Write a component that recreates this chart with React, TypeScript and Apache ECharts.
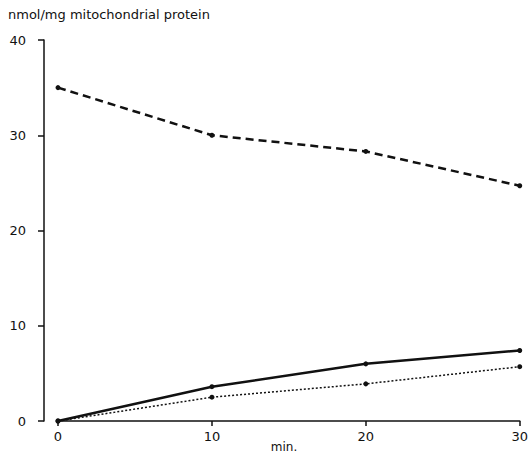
import React, { useEffect, useRef } from "react";
import * as echarts from "echarts";

const minutes = [0, 10, 20, 30];
const dashedSeries = [35.0, 30.0, 28.3, 24.7];
const solidSeries = [0, 3.6, 6.0, 7.4];
const dottedSeries = [0, 2.5, 3.9, 5.7];
const yTicks = [0, 10, 20, 30, 40];
const yTitle = "nmol/mg mitochondrial protein";
const xTitle = "min.";

const FONT = "'DejaVu Sans', sans-serif";
const INK = "#111";

export default function App() {
  const ref = useRef<HTMLDivElement>(null);
  useEffect(() => {
    if (!ref.current) return;
    const chart = echarts.init(ref.current, undefined, { renderer: "svg" });
    const mk = (vals: number[]) => minutes.map((m, i) => [m, vals[i]]);
    chart.setOption({
      animation: false,
      backgroundColor: "#fff",
      grid: { left: 58, right: 10, top: 40, bottom: 32 },
      graphic: [
        {
          type: "text",
          left: 8,
          top: 8,
          style: { text: yTitle, font: `13px ${FONT}`, fill: INK },
        },
        {
          type: "text",
          x: 284,
          y: 441,
          style: { text: xTitle, font: `12px ${FONT}`, fill: INK, align: "center" },
        },
      ],
      xAxis: {
        type: "value",
        min: 0,
        max: 30,
        interval: 10,
        splitLine: { show: false },
        axisLine: { show: true, onZero: false, lineStyle: { color: INK, width: 1.5 } },
        axisTick: { show: true, inside: false, length: 5, lineStyle: { color: INK, width: 1.5 } },
        axisLabel: { color: INK, fontSize: 13, fontFamily: FONT, margin: 9 },
      },
      yAxis: {
        type: "value",
        min: yTicks[0],
        max: yTicks[yTicks.length - 1],
        interval: 10,
        offset: 14,
        splitLine: { show: false },
        axisLine: { show: true, onZero: false, lineStyle: { color: INK, width: 1.5 } },
        axisTick: { show: true, inside: false, length: 6, lineStyle: { color: INK, width: 1.5 } },
        axisLabel: { color: INK, fontSize: 13, fontFamily: FONT, margin: 18 },
      },
      series: [
        {
          type: "line",
          data: mk(dashedSeries),
          symbol: "circle",
          symbolSize: 5,
          itemStyle: { color: INK },
          lineStyle: { color: INK, width: 2.5, type: [8, 5] },
        },
        {
          type: "line",
          data: mk(solidSeries),
          symbol: "circle",
          symbolSize: 5,
          itemStyle: { color: INK },
          lineStyle: { color: INK, width: 2.5, type: "solid" },
        },
        {
          type: "line",
          data: mk(dottedSeries),
          symbol: "circle",
          symbolSize: 5,
          itemStyle: { color: INK },
          lineStyle: { color: INK, width: 1.5, type: [2, 2] },
        },
      ],
    });
    return () => chart.dispose();
  }, []);
  return <div ref={ref} style={{ width: 531, height: 453, position: "absolute", left: 0, top: 0 }} />;
}
